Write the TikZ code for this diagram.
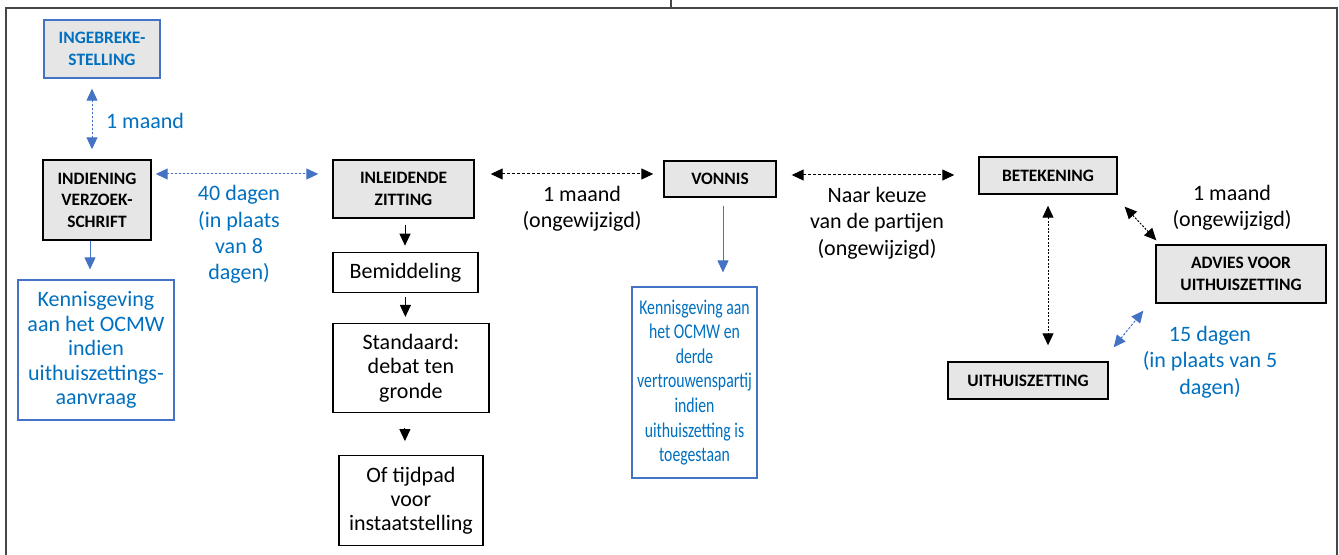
\documentclass[tikz,border=0pt]{standalone}
\usepackage{fontspec}
\setmainfont{Carlito}
\newfontfamily\smalfont[FakeStretch=0.75]{Carlito}
\usetikzlibrary{positioning, arrows.meta}
\definecolor{lijnblauw}{RGB}{68,114,196}
\definecolor{tekstblauw}{RGB}{0,112,192}
\definecolor{fasegrijs}{RGB}{231,230,230}
\definecolor{kadergrijs}{RGB}{70,70,70}

\begin{document}
\begin{tikzpicture}[
    x=0.5pt, y=-0.5pt,
    >={Triangle[length=6pt, width=5.5pt]},
    fase/.style={rectangle, draw=black, line width=0.7pt, fill=fasegrijs, align=center, inner sep=1pt,
      font=\fontsize{8.7}{10.8}\selectfont\bfseries},
    stap/.style={rectangle, draw=black, line width=0.6pt, fill=white, align=center, inner sep=1pt,
      font=\fontsize{11}{12.2}\selectfont},
    melding/.style={stap, draw=lijnblauw, text=tekstblauw},
    termijn/.style={align=center, font=\fontsize{11}{13.2}\selectfont},
    blauwtermijn/.style={termijn, text=tekstblauw},
    streep/.style={line width=0.5pt, dash pattern=on 1.5pt off 1pt},
    stippel/.style={line width=0.5pt, dash pattern=on 1pt off 0.75pt},
    blauwpijl/.style={line width=0.5pt, draw=lijnblauw, fill=lijnblauw, dash pattern=on 1pt off 1pt},
    blauwvol/.style={line width=0.5pt, draw=lijnblauw, fill=lijnblauw},
    zwartpijl/.style={line width=0.5pt}
  ]

  \useasboundingbox (0,0) rectangle (1339,555);

  % --- KADER ---
  \draw[kadergrijs, line width=0.6pt] (6,555) -- (6,8) -- (1337,8) -- (1337,555);
  \draw[kadergrijs, line width=0.6pt] (671,0) -- (671,8);

  % --- FASEN ---
  \node[fase, draw=lijnblauw, text=tekstblauw, minimum width=58pt, minimum height=29pt] (ingebreke) at (102,49) {INGEBREKE-\\STELLING};
  \node[fase, minimum width=54pt, minimum height=40pt] (indiening) at (97,200) {INDIENING\\VERZOEK-\\SCHRIFT};
  \node[melding, minimum width=78pt, minimum height=70pt] (kennisocmw) at (96,350) {Kennisgeving\\aan het OCMW\\indien\\uithuiszettings-\\aanvraag};

  \node[fase, minimum width=70.5pt, minimum height=29pt] (zitting) at (403.5,189) {INLEIDENDE\\ZITTING};
  \node[stap, minimum width=72.5pt, minimum height=20pt, below=16.5pt of zitting.south west, anchor=north west] (bemiddeling) {Bemiddeling};
  \node[stap, minimum width=78pt, minimum height=44.5pt, below=15pt of bemiddeling.south west, anchor=north west] (standaard) {Standaard:\\debat ten\\gronde};
  \node[stap, minimum width=72pt, minimum height=45pt, below right=21pt and 3pt of standaard.south west, anchor=north west] (tijdpad) {Of tijdpad\\voor\\instaatstelling};

  \node[fase, minimum width=56pt, minimum height=18pt] (vonnis) at (720,179) {VONNIS};
  \node[melding, minimum width=62.5pt, minimum height=95.5pt, font=\fontsize{10.5}{12.3}\smalfont] (kennisvonnis) at (694.5,382.5) {Kennisgeving aan\\het OCMW en\\derde\\vertrouwenspartij\\indien\\uithuiszetting is\\toegestaan};

  \node[fase, minimum width=69pt, minimum height=18.5pt] (betekening) at (1048,175.5) {BETEKENING};
  \node[fase, minimum width=85pt, minimum height=29pt] (advies) at (1241,274) {ADVIES VOOR\\UITHUISZETTING};
  \node[fase, minimum width=80pt, minimum height=18.5pt] (uithuis) at (1028,380.5) {UITHUISZETTING};

  % --- TERMIJNEN ---
  \node[blauwtermijn] (tmaand) at (145,121) {1 maand};
  \node[blauwtermijn] (tveertig) at (239,234.5) {40 dagen\\(in plaats\\van 8\\dagen)};
  \node[termijn] (tvonnis) at (582,208.5) {1 maand\\(ongewijzigd)};
  \node[termijn] (tkeuze) at (877,223) {Naar keuze\\van de partijen\\(ongewijzigd)};
  \node[termijn] (tadvies) at (1232,207.5) {1 maand\\(ongewijzigd)};
  \node[blauwtermijn] (tvijftien) at (1210,362) {15 dagen\\(in plaats van 5\\dagen)};

  % --- VERBINDINGEN ---
  % eerste fase
  \draw[blauwpijl, <->, shorten <=5pt, shorten >=5pt] ([xshift=-5pt]ingebreke.south) -- ([xshift=-2.5pt]indiening.north);
  \draw[blauwpijl, <->, shorten <=2pt, shorten >=7pt] ([yshift=13pt]indiening.east) -- ([yshift=13pt]indiening.east -| zitting.west);
  \draw[blauwvol, ->, shorten >=5pt] ([xshift=-3.5pt]indiening.south) -- ([xshift=-3.5pt]indiening.south |- kennisocmw.north);

  % zitting
  \draw[zwartpijl, ->, shorten <=3pt, shorten >=3pt] ([xshift=0.75pt]zitting.south) -- ([xshift=0.75pt]zitting.south |- bemiddeling.north);
  \draw[zwartpijl, ->, shorten <=2pt, shorten >=3pt] (bemiddeling.south) -- (bemiddeling.south |- standaard.north);
  \draw[zwartpijl, ->, shorten <=7.5pt, shorten >=7pt] ([xshift=-3pt]standaard.south) -- ([xshift=-3pt]standaard.south |- tijdpad.north);
  \draw[streep, <->, shorten <=8pt, shorten >=5pt] ([yshift=7.5pt]zitting.east) -- ([yshift=7.5pt]zitting.east -| vonnis.west);

  % vonnis
  \draw[blauwvol, ->, shorten <=4pt, shorten >=7pt] ([xshift=1.5pt]vonnis.south) -- ([xshift=1.5pt]vonnis.south |- kennisvonnis.north);
  \draw[streep, <->, shorten <=7.5pt, shorten >=12pt] ([yshift=2pt]vonnis.east) -- ([yshift=2pt]vonnis.east -| betekening.west);

  % uitvoering
  \draw[stippel, <->, shorten <=5.5pt, shorten >=8pt] (betekening.south) -- (betekening.south |- uithuis.north);
  \draw[stippel, <->] ([shift={(3.5pt,-6pt)}]betekening.south east) -- ([shift={(0.5pt,2pt)}]advies.north west);
  \draw[blauwpijl, <->] ([shift={(2.5pt,7pt)}]uithuis.north east) -- ([shift={(-6pt,-3.5pt)}]advies.south west);

\end{tikzpicture}
\end{document}
